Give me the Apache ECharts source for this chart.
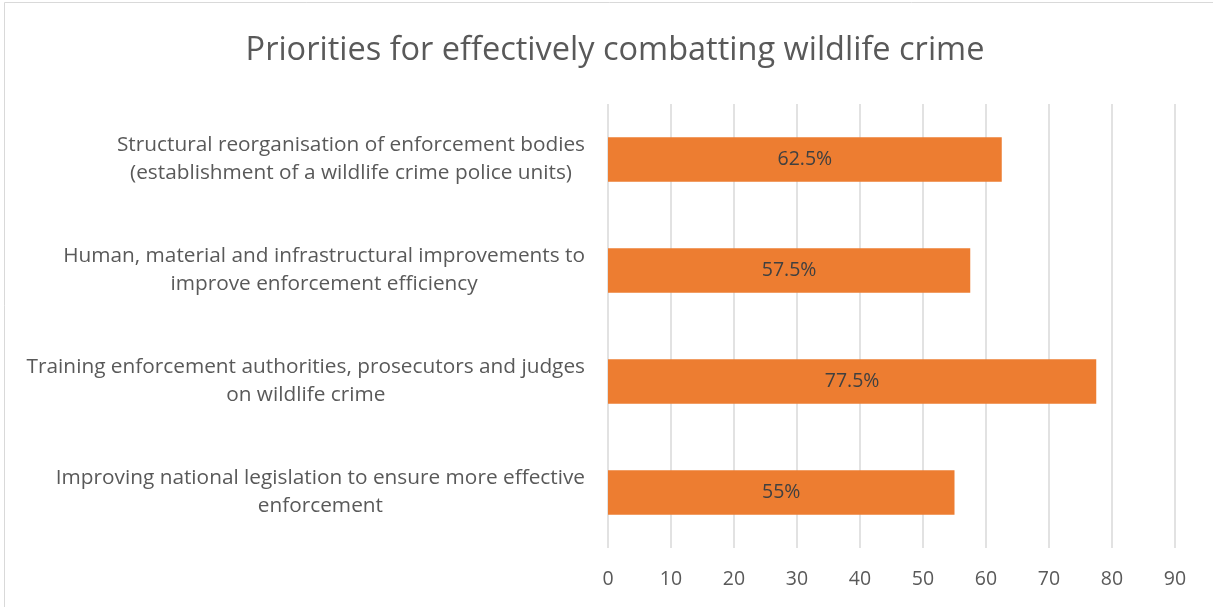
<!DOCTYPE html>
<html>
<head>
<meta charset="utf-8">
<script src="https://cdn.jsdelivr.net/npm/echarts@6/dist/echarts.min.js"></script>
<style>
  html, body { margin: 0; padding: 0; background: #ffffff; }
  #chart { width: 1213px; height: 607px; }
</style>
</head>
<body>
<div id="chart"></div>
<script>
// Categories listed bottom to top (category axis starts at the bottom)
const categories = [
  'Improving national legislation to ensure more effective\nenforcement',
  'Training enforcement authorities, prosecutors and judges\non wildlife crime',
  'Human, material and infrastructural improvements to\nimprove enforcement efficiency',
  'Structural reorganisation of enforcement bodies\n(establishment of a wildlife crime police units)'
];
const values = [55, 77.5, 57.5, 62.5];
const valueLabels = ['55%', '77.5%', '57.5%', '62.5%'];
const axisMin = 0;
const axisMax = 90;
const axisStep = 10;

const FONT = '"Open Sans", Lato, sans-serif';
const chart = echarts.init(document.getElementById('chart'), null, { renderer: 'canvas' });

chart.setOption({
  backgroundColor: '#ffffff',
  animation: false,
  title: {
    text: 'Priorities for effectively combatting wildlife crime',
    left: 610,
    textAlign: 'center',
    top: 29,
    textStyle: { fontFamily: FONT, fontSize: 32.5, fontWeight: 'normal', color: '#595959' }
  },
  graphic: [{
    type: 'rect',
    shape: { x: 4.5, y: 2.5, width: 1240, height: 640 },
    style: { fill: 'none', stroke: '#d9d9d9', lineWidth: 1 },
    silent: true
  }],
  grid: { left: 608, right: 38, top: 104, bottom: 59, containLabel: false },
  xAxis: {
    type: 'value',
    min: axisMin,
    max: axisMax,
    interval: axisStep,
    axisLine: { show: false },
    axisTick: { show: false },
    splitLine: { show: true, lineStyle: { color: '#d9d9d9', width: 1.5 } },
    axisLabel: { margin: 21, fontFamily: FONT, fontSize: 19.5, color: '#595959' }
  },
  yAxis: {
    type: 'category',
    data: categories,
    axisLine: { show: false },
    axisTick: { show: false },
    splitLine: { show: false },
    axisLabel: {
      margin: 23,
      formatter: function (v) {
        return v.split('\n').map(function (s) { return '{c|' + s + '}'; }).join('\n');
      },
      rich: {
        c: { align: 'center', fontFamily: FONT, fontSize: 20.8, color: '#595959', lineHeight: 28 }
      }
    }
  },
  series: [{
    type: 'bar',
    data: values,
    barWidth: '40%',
    itemStyle: { color: '#ED7D31' },
    label: {
      show: true,
      position: 'inside',
      formatter: function (p) { return valueLabels[p.dataIndex]; },
      fontFamily: FONT,
      fontSize: 19.5,
      color: '#404040'
    }
  }]
});
</script>
</body>
</html>
